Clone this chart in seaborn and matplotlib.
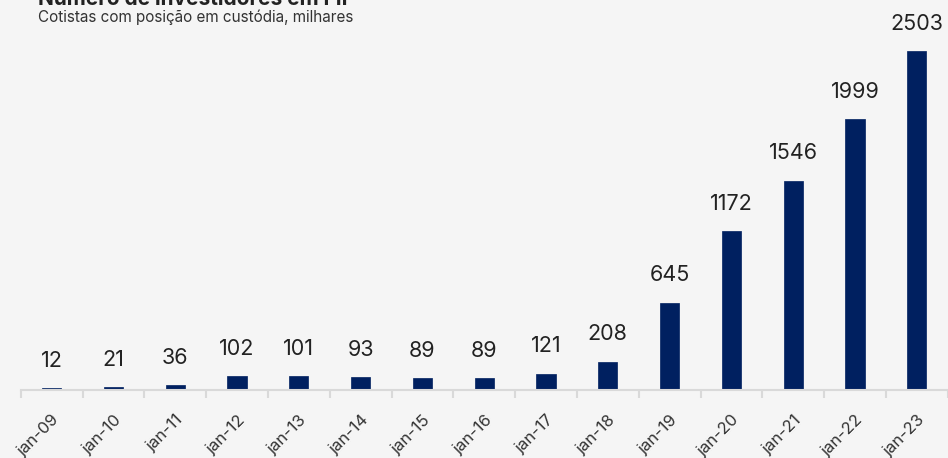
import matplotlib
matplotlib.use("Agg")
import matplotlib.pyplot as plt
import seaborn as sns
import pandas as pd
import numpy as np

categories = ["jan-09", "jan-10", "jan-11", "jan-12", "jan-13", "jan-14", "jan-15",
              "jan-16", "jan-17", "jan-18", "jan-19", "jan-20", "jan-21", "jan-22", "jan-23"]
values = [12, 21, 36, 102, 101, 93, 89, 89, 121, 208, 645, 1172, 1546, 1999, 2503]

title = "Número de investidores em FII"
subtitle = "Cotistas com posição em custódia, milhares"

sns.set_theme(style="white")
plt.rcParams["font.family"] = ["Inter", "DejaVu Sans"]

bg = "#f5f5f5"
W, H = 948, 458
fig = plt.figure(figsize=(W / 100, H / 100), dpi=100, facecolor=bg)
ax = fig.add_axes([20.7 / W, (H - 390) / H, (947.7 - 20.7) / W, 390 / H])
ax.set_facecolor(bg)

df = pd.DataFrame({"cat": categories, "val": values})
sns.barplot(data=df, x="cat", y="val", color="#002060", width=0.31, ax=ax,
            saturation=1, edgecolor="#002060", linewidth=0.5)

ax.set_xlim(-0.5, len(categories) - 0.5)
ax.set_ylim(0, 2880)
ax.set_xlabel("")
ax.set_ylabel("")
ax.set_yticks([])

for i, v in enumerate(values):
    ax.annotate(str(v), (i, v), xytext=(0, 12.5), textcoords="offset points",
                ha="center", va="bottom", fontsize=15.5, color="#222222")

for s in ["top", "right", "left"]:
    ax.spines[s].set_visible(False)
ax.spines["bottom"].set_color("#d9d9d9")
ax.spines["bottom"].set_linewidth(1.5)

ax.set_xticks(range(len(categories)))
ax.set_xticklabels(categories, rotation=45, ha="right", rotation_mode="anchor",
                   fontsize=12, color="#333333")
ax.tick_params(axis="x", which="major", length=0, pad=16)
ax.set_xticks(np.arange(-0.5, len(categories), 1.0), minor=True)
ax.tick_params(axis="x", which="minor", length=6, width=1.5, color="#d9d9d9", bottom=True)

fig.text(38 / W, 1 - 5 / H, title, fontsize=15, fontweight="bold", color="#222222",
         ha="left", va="baseline")
fig.text(38 / W, 1 - 22 / H, subtitle, fontsize=11, color="#333333",
         ha="left", va="baseline")

fig.savefig("out.png", dpi=100, facecolor=bg)
